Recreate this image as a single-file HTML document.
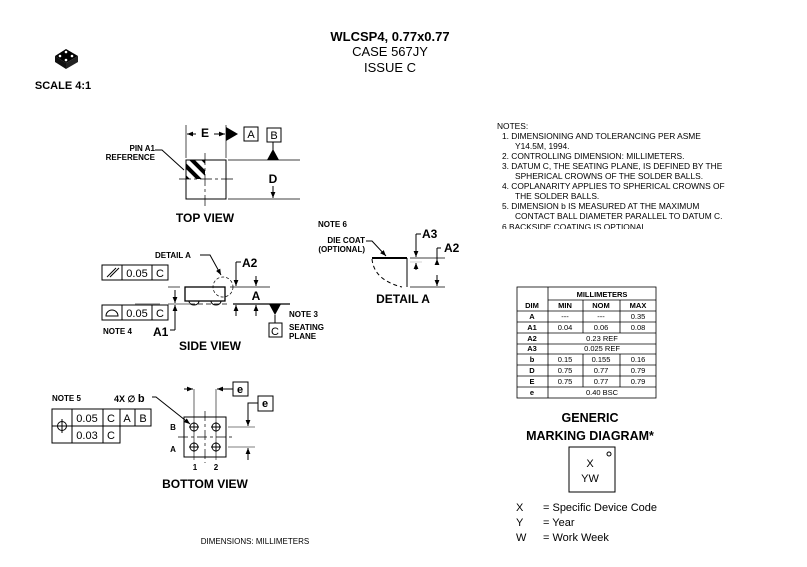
<!DOCTYPE html>
<html><head><style>
html,body{margin:0;padding:0;background:#fff}
svg{display:block}
text{font-family:"Liberation Sans",Arial,sans-serif;fill:#000}
.b{font-weight:bold}
</style></head><body>
<svg width="807" height="567" viewBox="0 0 807 567" xmlns="http://www.w3.org/2000/svg">
<defs>
<marker id="ar" viewBox="0 0 10 10" refX="10" refY="5" markerWidth="6" markerHeight="6" orient="auto-start-reverse"><path d="M0,1 L10,5 L0,9 z" fill="#000"/></marker>
<clipPath id="q"><rect x="186" y="160" width="19" height="19"/></clipPath>
<clipPath id="nc"><rect x="480" y="110" width="300" height="119"/></clipPath>
</defs>
<!-- Title -->
<text x="390" y="41" font-size="13" class="b" text-anchor="middle">WLCSP4, 0.77x0.77</text>
<text x="390" y="56" font-size="13" text-anchor="middle">CASE 567JY</text>
<text x="390" y="72" font-size="13" text-anchor="middle">ISSUE C</text>
<!-- icon -->
<path d="M55,56 L66,49 L78,56 L66,63 Z" fill="#000"/>
<path d="M55,56 L55,62 L66,69 L66,63 Z" fill="#111"/>
<path d="M78,56 L78,62 L66,69 L66,63 Z" fill="#222"/>
<circle cx="66" cy="52" r="1.3" fill="#fff"/><circle cx="60" cy="56" r="1.3" fill="#fff"/><circle cx="72" cy="56" r="1.3" fill="#fff"/><circle cx="66" cy="60" r="1.3" fill="#fff"/>
<text x="63" y="89" font-size="11" class="b" text-anchor="middle">SCALE 4:1</text>

<g stroke="#000" fill="none" stroke-width="1">
<!-- TOP VIEW -->
<rect x="186" y="160" width="40" height="39"/>
<g clip-path="url(#q)" stroke-width="4"><line x1="180" y1="160" x2="205" y2="185"/><line x1="186" y1="154" x2="211" y2="179"/><line x1="174" y1="166" x2="199" y2="191"/><line x1="192" y1="148" x2="217" y2="173"/></g>
<line x1="179" y1="179" x2="233" y2="179" stroke-dasharray="12,3,3,3" stroke-width="0.7"/>
<line x1="205" y1="153" x2="205" y2="206" stroke-dasharray="12,3,3,3" stroke-width="0.7"/>
<line x1="186" y1="125" x2="186" y2="158" stroke-width="0.7"/>
<line x1="226" y1="125" x2="226" y2="158" stroke-width="0.7"/>
<line x1="187" y1="134" x2="196" y2="134" marker-start="url(#ar)"/>
<line x1="214" y1="134" x2="225" y2="134" marker-end="url(#ar)"/>
<rect x="244" y="127" width="14" height="14"/>
<rect x="267" y="128" width="14" height="14"/>
<line x1="228" y1="160" x2="300" y2="160" stroke-width="0.7"/>
<line x1="228" y1="199" x2="300" y2="199" stroke-width="0.7"/>
<line x1="273" y1="142" x2="273" y2="150"/>
<line x1="273" y1="186" x2="273" y2="198" marker-end="url(#ar)"/>
<polyline points="155,150 162,150 184,170"/>

<!-- SIDE VIEW -->
<rect x="185" y="287" width="40" height="14" stroke-width="1.3"/>
<path d="M189,301 A5,4 0 0 0 199,301 M211,301 A5,4 0 0 0 221,301"/>
<line x1="135" y1="304" x2="160" y2="304" stroke="#999" stroke-width="1.5"/>
<line x1="168" y1="304" x2="190" y2="304" stroke="#999" stroke-width="1.5"/>
<line x1="190" y1="304" x2="230" y2="304" stroke-dasharray="5,3" stroke-width="0.7"/>
<line x1="233" y1="304" x2="290" y2="304" stroke-width="1.2"/>
<line x1="168" y1="287" x2="180" y2="287" stroke-width="0.7"/>
<line x1="230" y1="287" x2="270" y2="287" stroke-width="0.7"/>
<circle cx="223" cy="287" r="10" stroke-dasharray="3,2" stroke-width="0.7"/>
<polyline points="200,255 210,255 221,275" marker-end="url(#ar)"/>
<line x1="236" y1="262" x2="236" y2="286" marker-end="url(#ar)"/>
<line x1="236" y1="262" x2="241" y2="262"/>
<line x1="256" y1="276" x2="256" y2="286" marker-end="url(#ar)"/>
<line x1="256" y1="316" x2="256" y2="305" marker-end="url(#ar)"/>
<line x1="236" y1="316" x2="236" y2="305" marker-end="url(#ar)"/>
<line x1="175" y1="290" x2="175" y2="303" marker-end="url(#ar)"/>
<line x1="175" y1="330" x2="175" y2="305" marker-end="url(#ar)"/>
<line x1="170" y1="330" x2="175" y2="330"/>
<rect x="102" y="265" width="66" height="15"/><line x1="122" y1="265" x2="122" y2="280"/><line x1="152" y1="265" x2="152" y2="280"/>
<line x1="107" y1="277" x2="116" y2="268"/><line x1="110" y1="277" x2="119" y2="268"/>
<rect x="102" y="305" width="66" height="15"/><line x1="122" y1="305" x2="122" y2="320"/><line x1="152" y1="305" x2="152" y2="320"/>
<path d="M106,316 A6,6 0 0 1 118,316 Z"/>
<line x1="275" y1="315" x2="275" y2="323"/>
<rect x="269" y="323" width="13" height="14"/>

<!-- DETAIL A -->
<line x1="372" y1="258" x2="407" y2="258" stroke-width="2"/>
<line x1="407" y1="258" x2="407" y2="287"/>
<path d="M372,259 Q374,280 402,287" stroke-dasharray="4,3"/>
<polyline points="366,241 372,241 386,256" marker-end="url(#ar)"/>
<line x1="410" y1="258" x2="445" y2="258" stroke-width="0.7"/>
<line x1="410" y1="287" x2="445" y2="287" stroke-width="0.7"/>
<line x1="410" y1="262" x2="422" y2="262" stroke-width="0.5" stroke="#aaa"/>
<line x1="416" y1="234" x2="416" y2="257" marker-end="url(#ar)"/>
<line x1="416" y1="234" x2="421" y2="234"/>
<line x1="416" y1="270" x2="416" y2="263" marker-end="url(#ar)"/>
<line x1="437" y1="248" x2="441" y2="248"/>
<line x1="437" y1="248" x2="437" y2="259"/>
<line x1="437" y1="265" x2="437" y2="259" marker-end="url(#ar)"/>
<line x1="437" y1="275" x2="437" y2="286" marker-end="url(#ar)"/>

<!-- BOTTOM VIEW -->
<rect x="184" y="417" width="42" height="40"/>
<line x1="178" y1="437" x2="232" y2="437" stroke-dasharray="10,3,3,3" stroke-width="0.7"/>
<line x1="205" y1="411" x2="205" y2="463" stroke-dasharray="10,3,3,3" stroke-width="0.7"/>
<g stroke-width="0.9"><circle cx="194" cy="427" r="4"/><circle cx="216" cy="427" r="4"/><circle cx="194" cy="447" r="4"/><circle cx="216" cy="447" r="4"/>
<path d="M189,427h10M194,422v10M211,427h10M216,422v10M189,447h10M194,442v10M211,447h10M216,442v10"/></g>
<line x1="194" y1="389" x2="194" y2="460" stroke-width="0.6"/>
<line x1="216" y1="389" x2="216" y2="460" stroke-width="0.6"/>
<line x1="184" y1="389" x2="193" y2="389" marker-end="url(#ar)"/>
<line x1="233" y1="389" x2="217" y2="389" marker-end="url(#ar)"/>
<rect x="233" y="382" width="15" height="14"/>
<line x1="228" y1="427" x2="255" y2="427" stroke-width="0.6"/>
<line x1="228" y1="447" x2="255" y2="447" stroke-width="0.6"/>
<polyline points="258,403 248,403 248,426" marker-end="url(#ar)"/>
<line x1="248" y1="460" x2="248" y2="448" marker-end="url(#ar)"/>
<rect x="258" y="396" width="15" height="15"/>
<polyline points="152,397 156,397 190,424" marker-end="url(#ar)"/>
<rect x="52" y="409" width="99" height="17"/>
<rect x="52" y="426" width="68" height="17"/>
<line x1="72" y1="409" x2="72" y2="443"/><line x1="103" y1="409" x2="103" y2="443"/><line x1="120" y1="409" x2="120" y2="426"/><line x1="135" y1="409" x2="135" y2="426"/>
<circle cx="62" cy="426" r="4.5"/><path d="M55,426h14M62,419v14"/>

<!-- TABLE -->
<g stroke-width="0.8">
<rect x="517" y="287" width="139" height="111"/>
<line x1="548" y1="287" x2="548" y2="398"/>
<line x1="548" y1="300" x2="656" y2="300"/>
<line x1="517" y1="311" x2="656" y2="311"/>
<line x1="517" y1="322" x2="656" y2="322"/>
<line x1="517" y1="333" x2="656" y2="333"/>
<line x1="517" y1="344" x2="656" y2="344"/>
<line x1="517" y1="354" x2="656" y2="354"/>
<line x1="517" y1="365" x2="656" y2="365"/>
<line x1="517" y1="376" x2="656" y2="376"/>
<line x1="517" y1="387" x2="656" y2="387"/>
<line x1="583" y1="300" x2="583" y2="333"/><line x1="620" y1="300" x2="620" y2="333"/>
<line x1="583" y1="354" x2="583" y2="387"/><line x1="620" y1="354" x2="620" y2="387"/>
</g>
<!-- marking -->
<rect x="569" y="447" width="46" height="45"/>
<circle cx="609" cy="454" r="2"/>
</g>
<polygon points="226,127 238,134 226,141" fill="#000"/>
<polygon points="267,160 279,160 273,149" fill="#000"/>
<polygon points="269,304 281,304 275,315" fill="#000"/>

<g font-size="8" class="b">
<text x="155" y="151" text-anchor="end">PIN A1</text>
<text x="155" y="160" text-anchor="end">REFERENCE</text>
<text x="155" y="258">DETAIL A</text>
<text x="103" y="334">NOTE 4</text>
<text x="289" y="317">NOTE 3</text>
<text x="289" y="330">SEATING</text>
<text x="289" y="339">PLANE</text>
<text x="318" y="227">NOTE 6</text>
<text x="365" y="243" text-anchor="end">DIE COAT</text>
<text x="365" y="252" text-anchor="end">(OPTIONAL)</text>
<text x="52" y="401">NOTE 5</text>
<text x="173" y="430" text-anchor="middle">B</text>
<text x="173" y="452" text-anchor="middle">A</text>
<text x="195" y="470" text-anchor="middle">1</text>
<text x="216" y="470" text-anchor="middle">2</text>
</g>
<g font-size="12" class="b">
<text x="205" y="222" text-anchor="middle">TOP VIEW</text>
<text x="210" y="350" text-anchor="middle">SIDE VIEW</text>
<text x="403" y="303" text-anchor="middle">DETAIL A</text>
<text x="205" y="488" text-anchor="middle">BOTTOM VIEW</text>
<text x="205" y="137" text-anchor="middle">E</text>
<text x="273" y="183" text-anchor="middle">D</text>
<text x="242" y="267">A2</text>
<text x="256" y="300" text-anchor="middle">A</text>
<text x="153" y="336">A1</text>
<text x="422" y="238">A3</text>
<text x="444" y="252">A2</text>
</g>
<g font-size="11">
<text x="251" y="138" text-anchor="middle">A</text>
<text x="274" y="139" text-anchor="middle">B</text>
<text x="137" y="277" text-anchor="middle">0.05</text>
<text x="160" y="277" text-anchor="middle">C</text>
<text x="137" y="317" text-anchor="middle">0.05</text>
<text x="160" y="317" text-anchor="middle">C</text>
<text x="275" y="335" text-anchor="middle">C</text>
<text x="87" y="422" text-anchor="middle">0.05</text>
<text x="111" y="422" text-anchor="middle">C</text>
<text x="127" y="422" text-anchor="middle">A</text>
<text x="143" y="422" text-anchor="middle">B</text>
<text x="87" y="439" text-anchor="middle">0.03</text>
<text x="111" y="439" text-anchor="middle">C</text>
</g>
<text x="114" y="402" font-size="9" class="b">4X ∅ <tspan font-size="11">b</tspan></text>
<text x="240" y="393" font-size="11" class="b" text-anchor="middle">e</text>
<text x="265" y="407" font-size="11" class="b" text-anchor="middle">e</text>

<!-- Notes -->
<g font-size="8.4" clip-path="url(#nc)">
<text x="497" y="129">NOTES:</text>
<text x="502" y="139">1.  DIMENSIONING AND TOLERANCING PER ASME</text>
<text x="515" y="149">Y14.5M, 1994.</text>
<text x="502" y="159">2.  CONTROLLING DIMENSION: MILLIMETERS.</text>
<text x="502" y="169">3.  DATUM C, THE SEATING PLANE, IS DEFINED BY THE</text>
<text x="515" y="179">SPHERICAL CROWNS OF THE SOLDER BALLS.</text>
<text x="502" y="189">4.  COPLANARITY APPLIES TO SPHERICAL CROWNS OF</text>
<text x="515" y="199">THE SOLDER BALLS.</text>
<text x="502" y="209">5.  DIMENSION b IS MEASURED AT THE MAXIMUM</text>
<text x="515" y="219">CONTACT BALL DIAMETER PARALLEL TO DATUM C.</text>
<text x="502" y="230">6   BACKSIDE COATING IS OPTIONAL</text>
</g>

<!-- Table text -->
<g font-size="7.5" text-anchor="middle">
<text x="602" y="297" class="b">MILLIMETERS</text>
<text x="532" y="308" class="b">DIM</text><text x="565" y="308" class="b">MIN</text><text x="601" y="308" class="b">NOM</text><text x="638" y="308" class="b">MAX</text>
<text x="532" y="319" class="b">A</text><text x="565" y="319">---</text><text x="601" y="319">---</text><text x="638" y="319">0.35</text>
<text x="532" y="330" class="b">A1</text><text x="565" y="330">0.04</text><text x="601" y="330">0.06</text><text x="638" y="330">0.08</text>
<text x="532" y="341" class="b">A2</text><text x="602" y="341">0.23 REF</text>
<text x="532" y="351" class="b">A3</text><text x="602" y="351">0.025 REF</text>
<text x="532" y="362" class="b">b</text><text x="565" y="362">0.15</text><text x="601" y="362">0.155</text><text x="638" y="362">0.16</text>
<text x="532" y="373" class="b">D</text><text x="565" y="373">0.75</text><text x="601" y="373">0.77</text><text x="638" y="373">0.79</text>
<text x="532" y="384" class="b">E</text><text x="565" y="384">0.75</text><text x="601" y="384">0.77</text><text x="638" y="384">0.79</text>
<text x="532" y="395" class="b">e</text><text x="602" y="395">0.40 BSC</text>
</g>

<g font-size="12.5" class="b" text-anchor="middle">
<text x="590" y="422">GENERIC</text>
<text x="590" y="440">MARKING DIAGRAM*</text>
</g>
<g font-size="11">
<text x="590" y="467" text-anchor="middle">X</text>
<text x="590" y="482" text-anchor="middle">YW</text>
<text x="516" y="511">X</text><text x="543" y="511">= Specific Device Code</text>
<text x="516" y="526">Y</text><text x="543" y="526">= Year</text>
<text x="516" y="541">W</text><text x="543" y="541">= Work Week</text>
</g>
<text x="255" y="544" font-size="8" text-anchor="middle">DIMENSIONS: MILLIMETERS</text>
</svg>
</body></html>
